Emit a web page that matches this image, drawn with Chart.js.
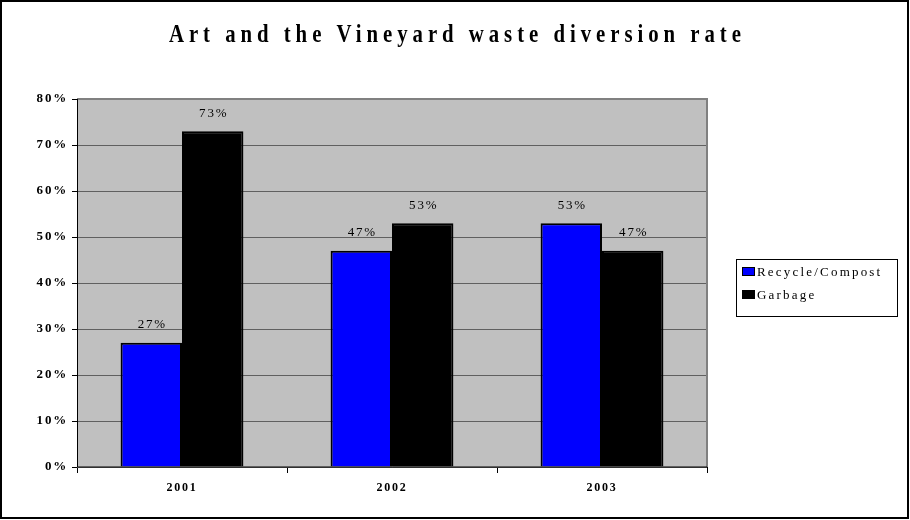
<!DOCTYPE html>
<html>
<head>
<meta charset="utf-8">
<script src="https://cdn.jsdelivr.net/npm/chart.js@4"></script>
<style>
  html, body { margin: 0; padding: 0; background: #fff; }
  #wrap { width: 910px; height: 520px; }
</style>
</head>
<body>
<div id="wrap"><canvas id="chart" width="910" height="520"></canvas></div>
<script>
// Chart data
const chartTitle = 'Art and the Vineyard waste diversion rate';
const years = ['2001', '2002', '2003'];
const recycleValues = [27, 47, 53];
const garbageValues = [73, 53, 47];
const seriesNames = ['Recycle/Compost', 'Garbage'];
const yTicks = [0, 10, 20, 30, 40, 50, 60, 70, 80];

const serif = '"Liberation Serif", "Times New Roman", serif';

// Gray plot area, frame, title, value labels and boxed legend.
const excelLook = {
    id: 'excelLook',
    beforeDraw(chart) {
        const { ctx, chartArea: a } = chart;
        ctx.save();
        ctx.fillStyle = '#C0C0C0';
        ctx.fillRect(a.left, a.top, a.right - a.left, a.bottom - a.top);
        ctx.restore();
        ctx.letterSpacing = '1.8px';
    },
    afterDatasetsDraw(chart) {
        const { ctx, chartArea: a } = chart;
        ctx.save();
        ctx.letterSpacing = '0px';
        // plot border (top / right gray)
        ctx.strokeStyle = '#808080';
        ctx.lineWidth = 2;
        ctx.beginPath();
        ctx.moveTo(a.left, a.top);
        ctx.lineTo(a.right, a.top);
        ctx.lineTo(a.right, a.bottom);
        ctx.stroke();
        // axes
        ctx.strokeStyle = '#000';
        ctx.lineWidth = 1;
        ctx.beginPath();
        ctx.moveTo(a.left + 0.5, a.top);
        ctx.lineTo(a.left + 0.5, a.bottom);
        ctx.lineTo(a.right, a.bottom);
        ctx.stroke();

        // value labels
        ctx.letterSpacing = '1.8px';
        ctx.font = '13px ' + serif;
        ctx.fillStyle = '#000';
        ctx.textAlign = 'center';
        ctx.textBaseline = 'middle';
        chart.data.datasets.forEach((ds, i) => {
            chart.getDatasetMeta(i).data.forEach((bar, j) => {
                ctx.fillText(ds.data[j] + '%', bar.x + 1, bar.y - 18);
            });
        });
        ctx.restore();
    },
    afterDraw(chart) {
        const ctx = chart.ctx;
        ctx.save();
        // outer frame
        ctx.strokeStyle = '#000';
        ctx.lineWidth = 2;
        ctx.strokeRect(1, 1, 907, 517);

        // title (narrow, tall letters)
        ctx.save();
        ctx.translate(455, 35);
        ctx.scale(0.8, 1);
        ctx.letterSpacing = '6.2px';
        ctx.font = 'bold 26px ' + serif;
        ctx.fillStyle = '#000';
        ctx.textAlign = 'center';
        ctx.textBaseline = 'middle';
        ctx.fillText(chartTitle, 3, 0);
        ctx.restore();

        // legend
        ctx.letterSpacing = '0px';
        ctx.strokeStyle = '#000';
        ctx.lineWidth = 1;
        ctx.strokeRect(736.5, 259.5, 161, 57);
        ctx.letterSpacing = '2.2px';
        ctx.font = '13px ' + serif;
        ctx.textAlign = 'left';
        ctx.textBaseline = 'middle';
        chart.data.datasets.forEach((ds, i) => {
            const y = 272 + i * 23;
            ctx.fillStyle = ds.backgroundColor;
            ctx.fillRect(742, y - 5, 13, 9);
            ctx.strokeStyle = '#000';
            ctx.strokeRect(742.5, y - 4.5, 12, 8);
            ctx.fillStyle = '#000';
            ctx.fillText(ds.label, 757, y + 1);
        });
        ctx.restore();
    }
};

const data = {
    labels: years,
    datasets: [{
        label: seriesNames[0],
        data: recycleValues,
        backgroundColor: '#0000FF',
        borderColor: '#000000',
        borderWidth: 2
    }, {
        label: seriesNames[1],
        data: garbageValues,
        backgroundColor: '#000000',
        borderColor: '#000000',
        borderWidth: 2
    }]
};

const config = {
    type: 'bar',
    data: data,
    options: {
        animation: false,
        responsive: false,
        layout: {
            padding: { top: 99, right: 203, bottom: 0, left: 0 }
        },
        datasets: {
            bar: {
                categoryPercentage: 0.585,
                barPercentage: 1
            }
        },
        plugins: {
            legend: { display: false },
            title: { display: false },
            tooltip: { enabled: false }
        },
        scales: {
            x: {
                afterFit(scale) { scale.height = 53; },
                grid: {
                    offset: true,
                    drawOnChartArea: false,
                    color: '#000',
                    tickLength: 6
                },
                border: { display: false },
                ticks: {
                    color: '#000',
                    padding: 8,
                    font: { family: serif, size: 12, weight: 'bold' }
                }
            },
            y: {
                min: 0,
                max: 80,
                afterFit(scale) { scale.width = 77; },
                afterBuildTicks(scale) {
                    scale.ticks = yTicks.map(v => ({ value: v }));
                },
                grid: {
                    color: '#606060',
                    tickLength: 5,
                    tickColor: '#000'
                },
                border: { display: false },
                ticks: {
                    color: '#000',
                    padding: 4,
                    font: { family: serif, size: 13, weight: 'bold' },
                    callback: v => v + '%'
                }
            }
        }
    },
    plugins: [excelLook]
};

const chart = new Chart(document.getElementById('chart'), config);
</script>
</body>
</html>
